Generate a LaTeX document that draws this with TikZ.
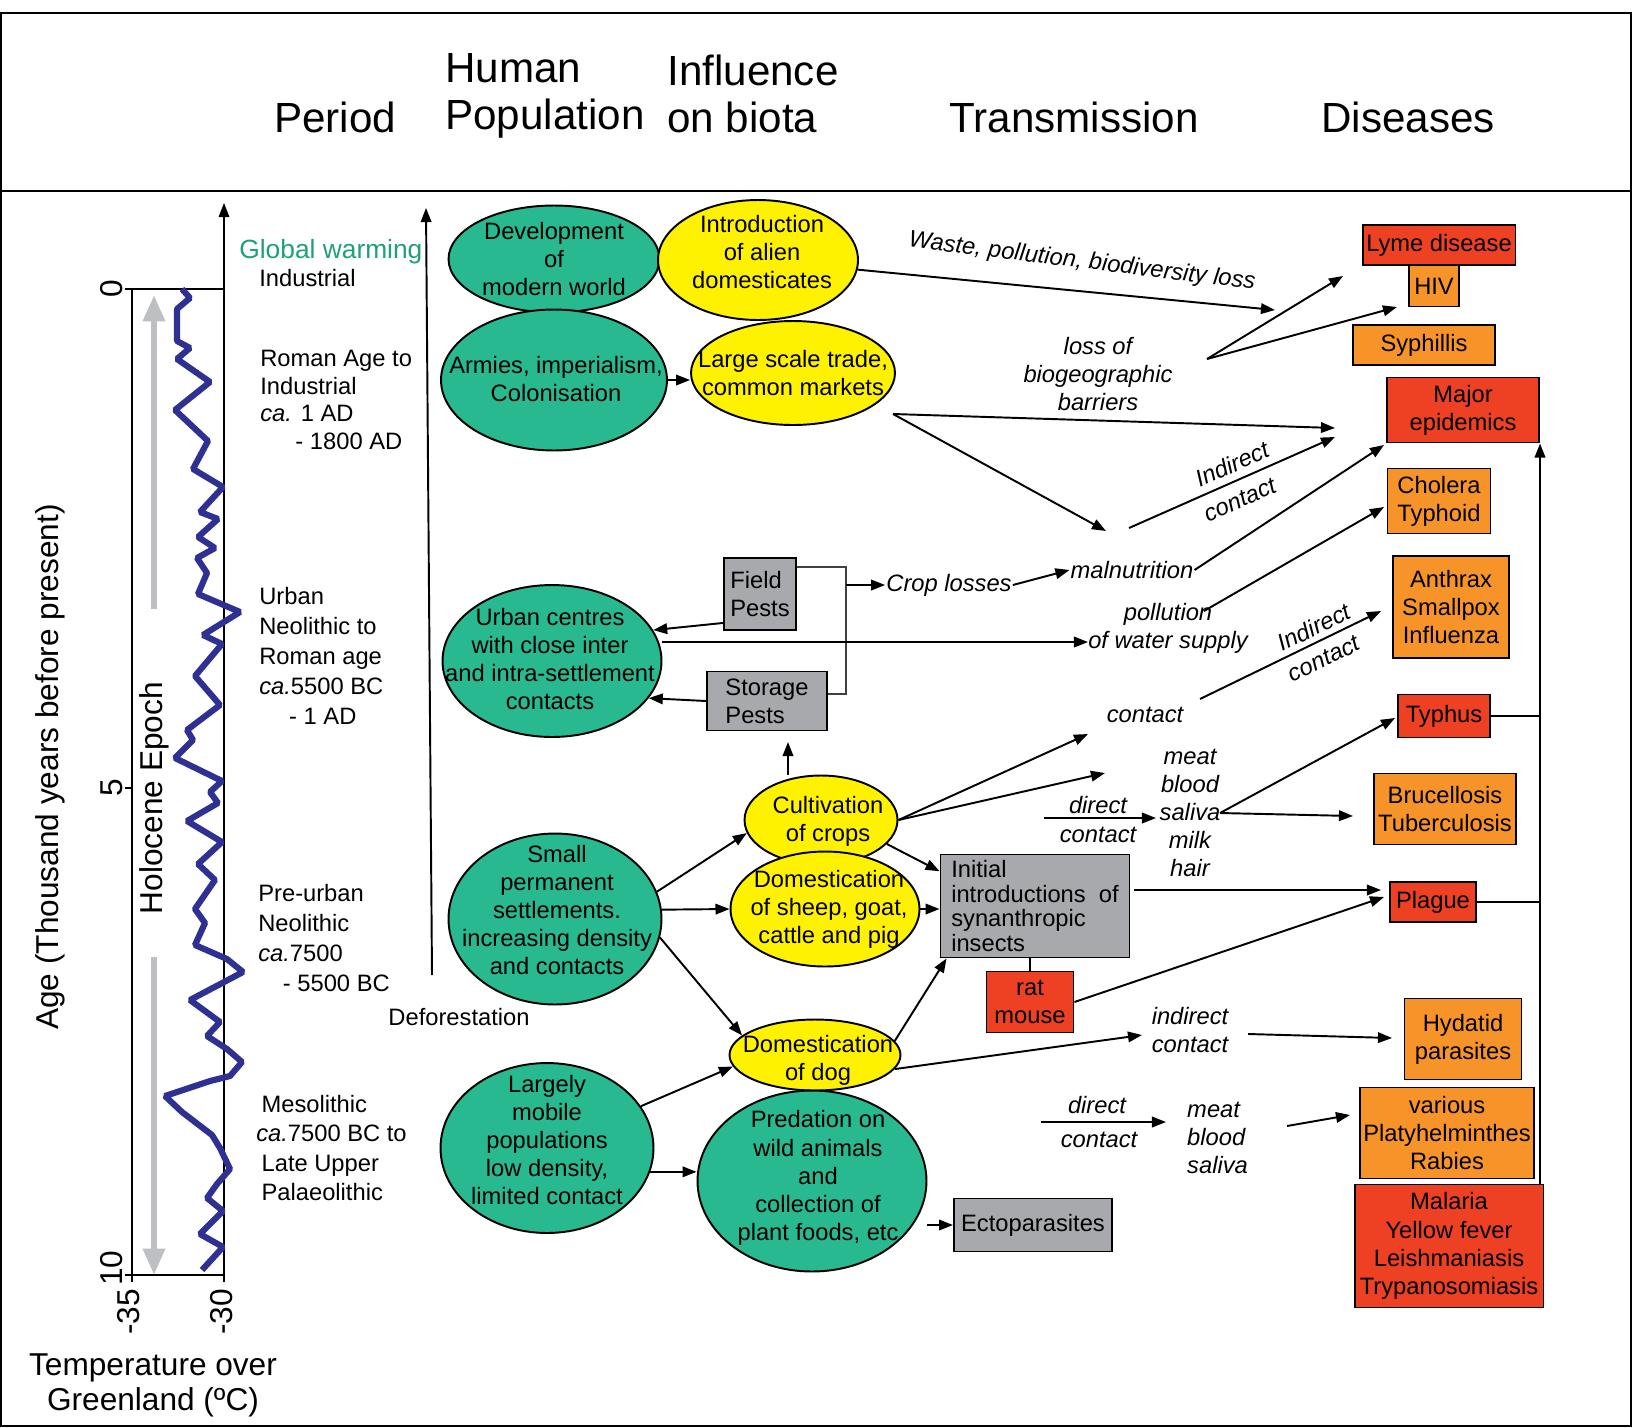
\documentclass[tikz,border=0pt]{standalone}
\usepackage{fontspec}
\setmainfont{Liberation Sans}
\usepackage{xcolor}
\usepackage{tikz}
\usetikzlibrary{shapes.geometric,arrows.meta,positioning,calc}

\definecolor{popgreen}{RGB}{40,185,145}
\definecolor{bioyellow}{RGB}{255,242,0}
\definecolor{pestgray}{RGB}{167,169,172}
\definecolor{disred}{RGB}{238,65,36}
\definecolor{disorange}{RGB}{247,148,41}
\definecolor{curveblue}{RGB}{46,49,146}
\definecolor{warmgreen}{RGB}{30,160,120}
\definecolor{epochgray}{RGB}{190,191,195}

\newcommand{\txtsize}{\fontsize{13.5}{16}\selectfont}
\newcommand{\headsize}{\fontsize{24}{26.6}\selectfont}
\newcommand{\axissize}{\fontsize{18}{19.8}\selectfont}

\begin{document}
\begin{tikzpicture}[
    x=0.02cm, y=-0.02cm,
    font=\txtsize,
    pop/.style={ellipse, draw, line width=1.1pt, fill=popgreen, inner sep=0pt},
    bio/.style={ellipse, draw, line width=1.1pt, fill=bioyellow, inner sep=0pt},
    ovaltxt/.style={align=center, inner sep=0pt},
    pest/.style={rectangle, draw, line width=1.1pt, fill=pestgray, inner sep=0pt, align=left},
    hotdis/.style={rectangle, draw, line width=1.1pt, fill=disred, inner sep=0pt, align=center},
    warmdis/.style={rectangle, draw, line width=1.1pt, fill=disorange, inner sep=0pt, align=center},
    trans/.style={font=\txtsize\itshape, align=center, inner sep=0.5pt},
    period/.style={align=left, anchor=west, inner sep=0pt},
    head/.style={font=\headsize},
    arrow/.style={-{Triangle[length=8pt,width=6pt]}, line width=1.1pt},
    bracket/.style={line width=0.6pt, black!75}
]
\useasboundingbox (0,0) rectangle (1632,1427);

% Frame and header
\draw[line width=0.8pt] (1,13) rectangle (1631,1426);
\draw[line width=0.8pt] (1,191) -- (1631,191);
\node[head] (hd-period) at (335,117) {Period};
\node[head, period] (hd-pop) at (445,96) {Human\\Population};
\node[head, period] (hd-biota) at (667,94) {Influence\\on biota};
\node[head] (hd-trans) at (1074,117) {Transmission};
\node[head] (hd-dis) at (1408,117) {Diseases};

% Temperature over Greenland
\draw[line width=0.6pt] (125,289) -- (224,289);
\draw[line width=0.6pt] (132,289) -- (132,1275);
\draw[line width=0.6pt] (125,1275) -- (224,1275);
\draw[line width=0.6pt] (125,788) -- (132,788);
\draw[line width=0.6pt] (132,1275) -- (132,1282);
\draw[line width=0.6pt] (224,1275) -- (224,1282);
\draw[arrow, line width=0.8pt] (224,1282) -- (224,203);
\node[font=\axissize, rotate=90] (tk-0) at (112,289) {0};
\node[font=\axissize, rotate=90] (tk-5) at (112,788) {5};
\node[font=\axissize, rotate=90] (tk-10) at (112,1268) {10};
\node[font=\axissize, rotate=90] (tk-35) at (129,1312) {-35};
\node[font=\axissize, rotate=90] (tk-30) at (222,1312) {-30};
\node[font=\axissize, rotate=90] (age-lbl) at (50,767) {Age (Thousand years before present)};
\node[font=\axissize, align=center] (temp-lbl) at (153,1385) {Temperature over\\Greenland (ºC)};

\draw[curveblue, line width=3.5pt, line join=bevel] plot coordinates {
    (182,289) (190,298) (177,309) (177,341) (190,348) (177,359) (210,382)
    (175,410) (208,441) (193,469) (223,487) (200,512) (218,519) (198,537)
    (215,548) (197,558) (207,573) (198,594) (240,612) (203,635) (222,644)
    (195,676) (220,705) (187,730) (193,740) (175,758) (222,781) (210,792)
    (218,803) (187,821) (222,842) (198,864) (215,880) (195,909) (205,923)
    (195,945) (227,959) (243,972) (190,1000) (220,1022) (207,1036) (227,1049)
    (242,1062) (230,1076) (210,1081) (165,1096) (182,1112) (212,1135)
    (220,1148) (230,1169) (217,1184) (207,1198) (223,1211) (200,1234)
    (223,1247) (202,1270)};

% Holocene Epoch
\draw[epochgray, line width=3.5pt, -{Triangle[length=15pt,width=12pt]}] (154,609) -- (154,295);
\draw[epochgray, line width=3.5pt, -{Triangle[length=15pt,width=12pt]}] (154,957) -- (154,1275);
\node[font=\axissize, rotate=90] (holo-lbl) at (154,798) {Holocene Epoch};

% Periods
\node[period, font=\fontsize{15}{18}\selectfont, text=warmgreen] (warming) at (239,252) {Global warming};
\node[period] (industrial) at (259,278) {Industrial};
\node[period, font=\fontsize{13.5}{15.7}\selectfont] (roman) at (260,400)
    {Roman Age to\\Industrial\\\textit{ca.} 1 AD\\\hspace*{20pt}- 1800 AD};
\node[period, font=\fontsize{13.5}{17}\selectfont] (urban-per) at (259,656)
    {Urban\\Neolithic to\\Roman age\\\textit{ca.}5500 BC\\\hspace*{17pt}- 1 AD};
\node[period, font=\fontsize{13.5}{17}\selectfont] (preurban) at (258,938)
    {Pre-urban\\Neolithic\\\textit{ca.}7500\\\hspace*{14pt}- 5500 BC};
\node[period, font=\fontsize{13.5}{16.7}\selectfont] (meso) at (256,1148)
    {\hspace*{3pt}Mesolithic\\\textit{ca.}7500 BC to\\\hspace*{3pt}Late Upper\\\hspace*{3pt}Palaeolithic};

% Human population
\draw[arrow] (432,975) -- (426,208);
\node (deforest) at (459,1017) {Deforestation};

% Influence on biota
\node[pop, minimum width=4.22cm, minimum height=2.14cm] (dev) at (554,259) {};
\node[ovaltxt] (dev-txt) at (554,259) {Development\\of\\modern world};
\node[bio, minimum width=4.0cm, minimum height=2.4cm] (alien) at (758,260) {};
\node[ovaltxt] (alien-txt) at (762,252) {Introduction\\of alien\\domesticates};
\node[pop, minimum width=4.52cm, minimum height=2.82cm] (armies) at (554,380) {};
\node[ovaltxt] (armies-txt) at (556,379) {Armies, imperialism,\\Colonisation};
\node[bio, minimum width=4.08cm, minimum height=2.08cm] (trade) at (793,373) {};
\node[ovaltxt] (trade-txt) at (793,373) {Large scale trade,\\common markets};
\node[pop, minimum width=4.38cm, minimum height=3.04cm] (urban) at (552,661) {};
\node[ovaltxt] (urban-txt) at (550,659) {Urban centres\\with close inter\\and intra-settlement\\contacts};
\node[pest, minimum width=1.44cm, minimum height=1.44cm] (field) at (760,594) {Field\\Pests};
\node[pest, minimum width=2.4cm, minimum height=1.18cm] (storage) at (767,701) {Storage\\Pests};
\node[bio, minimum width=3.06cm, minimum height=1.78cm] (crops) at (821,820) {};
\node[ovaltxt] (crops-txt) at (828,821) {Cultivation\\of crops};
\node[bio, minimum width=3.78cm, minimum height=2.3cm] (sheep) at (825,909) {};
\node[ovaltxt] (sheep-txt) at (829,909) {Domestication\\of sheep, goat,\\cattle and pig};
\node[pop, minimum width=4.26cm, minimum height=3.42cm] (small) at (555,919) {};
\node[ovaltxt] (small-txt) at (557,910) {Small\\permanent\\settlements.\\increasing density\\and contacts};
\node[pest, minimum width=3.78cm, minimum height=2.06cm, font=\fontsize{13.5}{14}\selectfont] (initial) at (1035,906)
    {Initial\\introductions~~of\\synanthropic\\insects};
\node[hotdis, minimum width=1.74cm, minimum height=1.22cm] (rat) at (1030,1002) {rat\\mouse};
\node[bio, minimum width=3.42cm, minimum height=1.42cm] (dog) at (815,1055) {};
\node[ovaltxt] (dog-txt) at (818,1060) {Domestication\\of dog};
\node[pop, minimum width=4.26cm, minimum height=3.4cm] (mobile) at (547,1148) {};
\node[ovaltxt] (mobile-txt) at (547,1140) {Largely\\mobile\\populations\\low density,\\limited contact};
\node[pop, minimum width=4.58cm, minimum height=3.62cm] (predation) at (812,1181) {};
\node[ovaltxt] (predation-txt) at (818,1178) {Predation on\\wild animals\\and\\collection of\\plant foods, etc};
\node[pest, minimum width=3.16cm, minimum height=1.06cm] (ecto) at (1033,1225) {Ectoparasites};

% Diseases
\node[hotdis, minimum width=3.06cm, minimum height=0.8cm] (lyme) at (1439,245) {Lyme disease};
\node[warmdis, minimum width=1.0cm, minimum height=0.82cm] (hiv) at (1434,286) {HIV};
\node[warmdis, minimum width=2.84cm, minimum height=0.8cm] (syph) at (1424,345) {Syphillis};
\node[hotdis, minimum width=3.04cm, minimum height=1.3cm] (major) at (1463,410) {Major\\epidemics};
\node[warmdis, minimum width=2.06cm, minimum height=1.3cm] (cholera) at (1439,501) {Cholera\\Typhoid};
\node[warmdis, minimum width=2.32cm, minimum height=2.04cm] (anthrax) at (1451,607) {Anthrax\\Smallpox\\Influenza};
\node[hotdis, minimum width=1.84cm, minimum height=0.86cm] (typhus) at (1444,716) {Typhus};
\node[warmdis, minimum width=2.84cm, minimum height=1.42cm] (brucell) at (1445,809) {Brucellosis\\Tuberculosis};
\node[hotdis, minimum width=1.72cm, minimum height=0.8cm] (plague) at (1433,902) {Plague};
\node[warmdis, minimum width=2.34cm, minimum height=1.62cm] (hydatid) at (1463,1039) {Hydatid\\parasites};
\node[warmdis, minimum width=3.48cm, minimum height=1.82cm] (platy) at (1447,1133) {various\\Platyhelminthes\\Rabies};
\node[hotdis, minimum width=3.78cm, minimum height=2.46cm] (malaria) at (1449,1246) {Malaria\\Yellow fever\\Leishmaniasis\\Trypanosomiasis};

% Transmission labels
\node[trans, rotate=-7] (waste-lbl) at (1082,262) {Waste, pollution, biodiversity loss};
\node[trans] (biogeo-lbl) at (1098,374) {loss of\\biogeographic\\barriers};
\node[trans, rotate=24] (ind1-lbl) at (1232,464) {Indirect};
\node[trans, rotate=24] (con1-lbl) at (1240,500) {contact};
\node[trans] (croploss) at (949,585) {Crop losses};
\node[trans] (malnut) at (1132,570) {malnutrition};
\node[trans] (pollution) at (1168,628) {pollution\\of water supply};
\node[trans] (contact2) at (1145,715) {contact};
\node[trans, rotate=26] (ind2-lbl) at (1314,627) {Indirect};
\node[trans, rotate=26] (con2-lbl) at (1324,659) {contact};
\node[trans] (products) at (1190,813) {meat\\blood\\saliva\\milk\\hair};
\node[trans] (direct1) at (1098,805) {direct};
\node[trans] (contact3) at (1098,835) {contact};
\node[trans] (ind3-lbl) at (1190,1030) {indirect\\contact};
\node[trans] (direct2) at (1097,1105) {direct};
\node[trans] (contact4) at (1099,1140) {contact};
\node[trans, align=left, anchor=west] (products2) at (1186,1138) {meat\\blood\\saliva};

% Free ends of connectors
\coordinate (waste-tip) at (1275,310);
\coordinate (bio-fork) at (1207,359);
\coordinate (lyme-tip) at (1343,276);
\coordinate (hiv-tip) at (1397,307);
\coordinate (trade-fork) at (893,414);
\coordinate (epi-tip1) at (1335,428);
\coordinate (mal-tip) at (1106,531);
\coordinate (ic1-start) at (1129,528);
\coordinate (epi-tip2) at (1335,437);
\coordinate (epi-tip3) at (1384,445);
\coordinate (poll-out) at (1204,611);
\coordinate (chol-tip) at (1384,507);
\coordinate (water-in) at (1088,642);
\coordinate (ct2-out) at (1200,699);
\coordinate (anth-tip) at (1381,611);
\coordinate (br-top) at (846,567);
\coordinate (br-bot) at (846,694);
\coordinate (st-up) at (788,742);
\coordinate (ct-tip) at (1088,734);
\coordinate (dc-tip) at (1105,773);
\coordinate (dc1-start) at (1044,818);
\coordinate (dc1-tip) at (1156,818);
\coordinate (sal-out) at (1220,813);
\coordinate (typh-tip) at (1395,718);
\coordinate (bru-tip) at (1353,816);
\coordinate (ins-out) at (1134,890);
\coordinate (plague-tip1) at (1381,890);
\coordinate (plague-tip2) at (1384,897);
\coordinate (ind3-tip) at (1142,1035);
\coordinate (ind3-out) at (1248,1034);
\coordinate (hyd-tip) at (1392,1038);
\coordinate (dc2-start) at (1041,1122);
\coordinate (dc2-tip) at (1166,1122);
\coordinate (mbs-out) at (1287,1126);
\coordinate (platy-tip) at (1350,1115);
\coordinate (bus) at (1540,0);

% Connectors: modern world
\draw[arrow] (armies.east) -- (armies.east -| trade.west);
\draw[arrow] (alien) -- (waste-tip);
\draw[arrow] (bio-fork) -- (lyme-tip);
\draw[arrow] (bio-fork) -- (hiv-tip);
\draw[arrow] (trade-fork) -- (epi-tip1);
\draw[arrow] (trade-fork) -- (mal-tip);
\draw[arrow] (ic1-start) -- (epi-tip2);
\draw[arrow] (malnut.east) -- (epi-tip3);
\draw[arrow] (poll-out) -- (chol-tip);
\draw[arrow] (ct2-out) -- (anth-tip);

% Connectors: urban centres and pests
\draw[bracket] (field.east |- br-top) -- (br-top) -- (br-bot) -- (storage.east |- br-bot);
\draw[arrow] (br-top |- croploss) -- (croploss.west);
\draw[arrow] (croploss.east) -- (malnut.west);
\draw[arrow] ($(field.south west)+(0,-8)$) -- (urban.17);
\draw[arrow] (storage.west) -- (urban.-21);
\draw[arrow] (urban.east |- water-in) -- (water-in);

% Connectors: settlements and domestication
\draw[arrow] (crops.north -| st-up) -- (st-up);
\draw[arrow] (crops.east) -- (ct-tip);
\draw[arrow] (crops.east) -- (dc-tip);
\draw[arrow] (crops.-20) -- (initial.160);
\draw[arrow] (sheep.east) -- (sheep.east -| initial.west);
\draw[arrow] (small.15) -- (crops.190);
\draw[arrow] (small.5) -- (sheep.west);
\draw[arrow] (small.-10) -- (dog.165);
\draw[arrow] (mobile.24) -- (dog.188);
\draw[arrow] (mobile.-13) -- (mobile.-13 -| predation.west);
\draw[arrow] (ecto.west -| predation.east) -- (ecto.west);
\draw[arrow] (dog.10) -- ($(initial.south west)+(7,0)$);
\draw[line width=0.6pt] (initial.south -| rat.north) -- (rat.north);
\draw[arrow] (rat.east) -- (plague-tip2);
\draw[arrow] (ins-out) -- (plague-tip1);
\draw[arrow] (dog.-10) -- (ind3-tip);
\draw[arrow] (ind3-out) -- (hyd-tip);
\draw[arrow] (dc1-start) -- (dc1-tip);
\draw[arrow] (sal-out) -- (typh-tip);
\draw[arrow] (sal-out) -- (bru-tip);
\draw[arrow] (dc2-start) -- (dc2-tip);
\draw[arrow] (mbs-out) -- (platy-tip);

% Diseases feeding major epidemics
\draw[arrow] (malaria.north -| bus) -- (major.south -| bus);
\draw[line width=1.1pt] (typhus.east) -- (typhus.east -| bus);
\draw[line width=1.1pt] (plague.east) -- (plague.east -| bus);

\end{tikzpicture}
\end{document}
